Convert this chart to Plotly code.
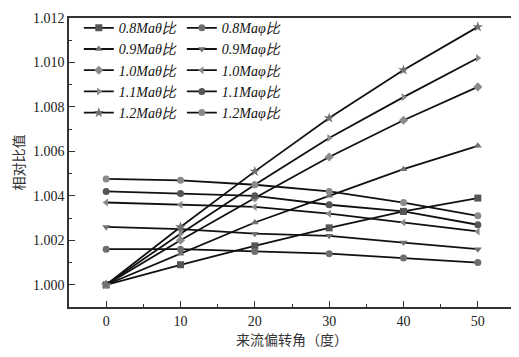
import plotly.graph_objects as go

angles = [0, 10, 20, 30, 40, 50]

theta_08 = [1.0000, 1.0009, 1.00175, 1.00256, 1.0033, 1.0039]
phi_08 = [1.0016, 1.0016, 1.0015, 1.0014, 1.0012, 1.0010]
theta_09 = [1.0000, 1.0014, 1.0028, 1.0040, 1.0052, 1.00625]
phi_09 = [1.0026, 1.0025, 1.0023, 1.0022, 1.0019, 1.0016]
theta_10 = [1.0000, 1.0020, 1.0039, 1.00575, 1.0074, 1.0089]
phi_10 = [1.0037, 1.0036, 1.0035, 1.0032, 1.0028, 1.0024]
theta_11 = [1.0000, 1.0023, 1.0045, 1.0066, 1.00844, 1.0102]
phi_11 = [1.0042, 1.0041, 1.0040, 1.0036, 1.0033, 1.0027]
theta_12 = [1.0000, 1.0026, 1.0051, 1.0075, 1.00966, 1.0116]
phi_12 = [1.00476, 1.0047, 1.0045, 1.0042, 1.0037, 1.0031]

theta_names = ["0.8Maθ比", "0.9Maθ比", "1.0Maθ比", "1.1Maθ比", "1.2Maθ比"]
phi_names = ["0.8Maφ比", "0.9Maφ比", "1.0Maφ比", "1.1Maφ比", "1.2Maφ比"]

theta_series = [theta_08, theta_09, theta_10, theta_11, theta_12]
phi_series = [phi_08, phi_09, phi_10, phi_11, phi_12]
theta_symbols = ["square", "triangle-up", "diamond", "triangle-right", "star"]
phi_symbols = ["circle", "triangle-down", "triangle-left", "circle", "circle"]
theta_colors = ["#555555", "#707070", "#8a8a8a", "#8a8a8a", "#707070"]
phi_colors = ["#6e6e6e", "#707070", "#8a8a8a", "#555555", "#8a8a8a"]

SERIF = "Times New Roman"

fig = go.Figure()
for name, ys, sym, col in zip(theta_names, theta_series, theta_symbols, theta_colors):
    fig.add_trace(go.Scatter(
        x=angles, y=ys, name=name, mode="lines+markers",
        line=dict(color="#111111", width=1.8),
        marker=dict(symbol=sym, size=7 if sym != "star" else 8, color=col,
                    line=dict(width=0)),
        legend="legend"))
for name, ys, sym, col in zip(phi_names, phi_series, phi_symbols, phi_colors):
    fig.add_trace(go.Scatter(
        x=angles, y=ys, name=name, mode="lines+markers",
        line=dict(color="#111111", width=1.8),
        marker=dict(symbol=sym, size=7, color=col, line=dict(width=0)),
        legend="legend2"))

legend_font = dict(family=SERIF, size=14, color="#111111", style="italic")
fig.update_layout(
    width=511, height=349,
    margin=dict(l=61, r=4, t=10, b=50),
    paper_bgcolor="white", plot_bgcolor="white",
    showlegend=True,
    font=dict(family=SERIF, size=13, color="#222222"),
    legend=dict(x=0.022, y=1.02, xanchor="left", yanchor="top",
                bgcolor="rgba(0,0,0,0)", font=legend_font,
                itemwidth=30, tracegroupgap=0),
    legend2=dict(x=0.253, y=1.02, xanchor="left", yanchor="top",
                 bgcolor="rgba(0,0,0,0)", font=legend_font,
                 itemwidth=30, tracegroupgap=0),
    xaxis=dict(
        range=[-5, 55], tickvals=[0, 10, 20, 30, 40, 50],
        ticks="inside", ticklen=6, tickwidth=1.2, tickcolor="#333333",
        minor=dict(ticks="inside", ticklen=3, dtick=5, tick0=0, tickcolor="#333333"),
        showline=True, linecolor="#333333", linewidth=1.5, mirror=True,
        showgrid=False, zeroline=False, automargin=False,
        tickfont=dict(family=SERIF, size=14, color="#222222"),
        title=dict(text="来流偏转角（度）", standoff=6,
                   font=dict(family="Noto Sans CJK SC", size=14, color="#333333")),
    ),
    yaxis=dict(
        range=[0.999, 1.012], tickvals=[1.000, 1.002, 1.004, 1.006, 1.008, 1.010, 1.012],
        tickformat=".3f",
        ticks="inside", ticklen=6, tickwidth=1.2, tickcolor="#333333",
        minor=dict(ticks="inside", ticklen=3, dtick=0.001, tick0=1.0, tickcolor="#333333"),
        showline=True, linecolor="#333333", linewidth=1.5, mirror=True,
        showgrid=False, zeroline=False, automargin=False,
        tickfont=dict(family=SERIF, size=14, color="#222222"),
        title=dict(text="相对比值", standoff=6,
                   font=dict(family="Noto Sans CJK SC", size=14, color="#333333")),
    ),
)

fig.write_html("out.html")
